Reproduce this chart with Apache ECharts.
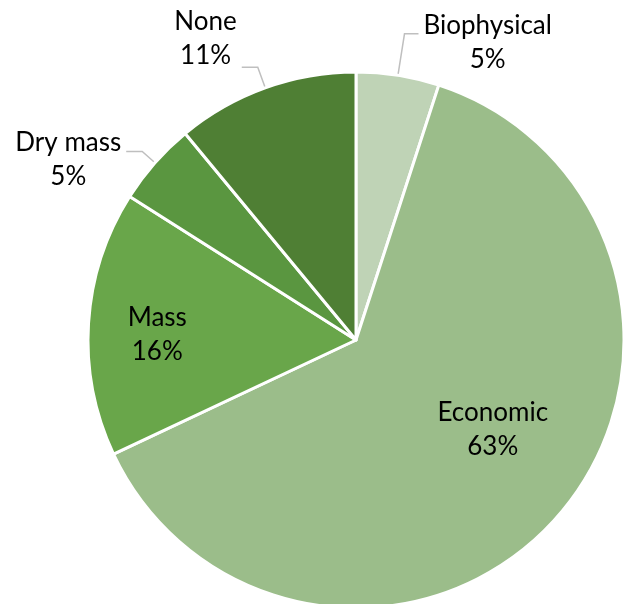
<!DOCTYPE html>
<html>
<head>
<meta charset="utf-8">
<style>html,body{margin:0;padding:0;background:#fff;}#c{width:625px;height:604px;}</style>
<script src="https://cdn.jsdelivr.net/npm/echarts@6/dist/echarts.min.js"></script>
</head>
<body>
<div id="c"></div>
<script>
const categories = ['Biophysical', 'Economic', 'Mass', 'Dry mass', 'None'];
const values = [5, 63, 16, 5, 11];
const colors = ['#bfd3b6', '#9bbd8a', '#69a64a', '#5a9640', '#4f7f34'];

const FONT = 'Lato';
const FS = 26;
const labelCfg = {
  Biophysical: { position: 'outside', padding: [18, 0, 0, 0], line: { length: 42, length2: 14 } },
  Economic: { position: 'inside', offset: [34, -1] },
  Mass: { position: 'inside', offset: [-62, 3] },
  'Dry mass': { position: 'outside', padding: [16, 0, 0, 0], line: { length: 17, length2: 16 } },
  None: { position: 'outside', padding: [0, 0, 58, 0], line: { length: 22, length2: 16 } }
};

const data = categories.map((name, i) => {
  const cfg = labelCfg[name];
  const item = {
    name: name,
    value: values[i],
    itemStyle: { color: colors[i] },
    label: { position: cfg.position }
  };
  if (cfg.offset) item.label.offset = cfg.offset;
  if (cfg.padding) item.label.padding = cfg.padding;
  if (cfg.line) item.labelLine = { show: true, length: cfg.line.length, length2: cfg.line.length2 };
  else item.labelLine = { show: false };
  return item;
});

const chart = echarts.init(document.getElementById('c'), null, { renderer: 'canvas' });
chart.setOption({
  animation: false,
  series: [{
    type: 'pie',
    center: [356, 340],
    radius: 268,
    startAngle: 90,
    clockwise: true,
    avoidLabelOverlap: false,
    data: data,
    itemStyle: { borderColor: '#ffffff', borderWidth: 3 },
    label: {
      show: true,
      formatter: '{t|{b}}\n{t|{c}%}',
      color: '#000',
      fontFamily: FONT,
      fontSize: FS,
      rich: { t: { align: 'center', fontFamily: FONT, fontSize: FS, lineHeight: 34, color: '#000' } }
    },
    labelLine: { lineStyle: { color: '#bfbfbf', width: 1.5 }, smooth: false }
  }]
});
</script>
</body>
</html>
